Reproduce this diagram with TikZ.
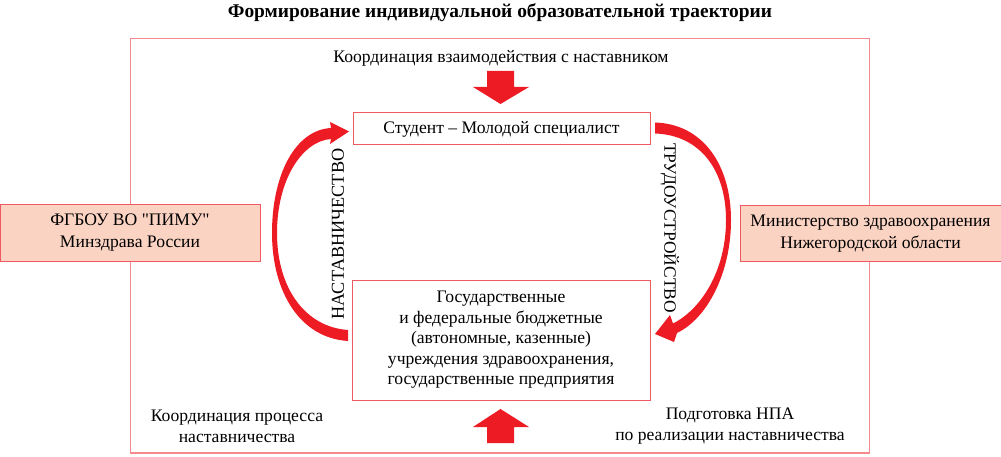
\documentclass[tikz,border=0pt]{standalone}
\usepackage{fontspec}
\setmainfont{Liberation Serif}
\newfontfamily\nomapfont{Liberation Serif}
\usetikzlibrary{calc}
\definecolor{arrred}{HTML}{ED1C24}
\definecolor{framered}{HTML}{F28A8E}
\definecolor{boxred}{HTML}{EE5A60}
\definecolor{peach}{HTML}{FBD3C3}
\newcommand{\sq}{{\nomapfont "}}
\tikzset{
  txt/.style={font=\fontsize{17.6}{21}\selectfont, align=center, inner sep=0pt},
  whitebox/.style={draw=boxred, line width=1pt, fill=white, inner sep=0pt, align=center, font=\fontsize{17.6}{20.5}\selectfont},
  peachbox/.style={draw=boxred, line width=1pt, fill=peach, inner sep=0pt, align=center, font=\fontsize{17.6}{22}\selectfont},
  redfill/.style={fill=arrred, draw=none},
}
\begin{document}
\begin{tikzpicture}[x=1pt,y=-1pt]
\useasboundingbox (0,0) rectangle (1001,457);
% frame
\draw[framered, line width=1.3pt] (130.5,38.5) rectangle (869.5,453);
% title
\node[txt, font=\bfseries\fontsize{19.4}{22}\selectfont] (title) at (500,13) {Формирование индивидуальной образовательной траектории};
\node[txt] (coord) at (501,58) {Координация взаимодействия с наставником};
% boxes
\node[whitebox, minimum width=297pt, minimum height=32pt] (student) at (501.5,129) {Студент – Молодой специалист};
\node[whitebox, minimum width=298pt, minimum height=120pt] (inst) at (501,340) {Государственные\\и федеральные бюджетные\\(автономные, казенные)\\учреждения здравоохранения,\\государственные предприятия};
\node[peachbox, minimum width=260pt, minimum height=56pt] (pimu) at (130,233) {ФГБОУ ВО \sq ПИМУ\sq\\Минздрава России};
\node[peachbox, minimum width=261pt, minimum height=56pt] (minzdrav) at (870.5,233.5) {Министерство здравоохранения\\Нижегородской области};
% bottom labels
\node[txt] (lbl1) at (237,426.5) {Координация процесса\\наставничества};
\node[txt] (lbl2) at (730,426.5) {Подготовка НПА\\по реализации наставничества};
% block arrows
\fill[redfill] (487,71) -- (514,71) -- (514,87) -- (529,87) -- (500.5,104) -- (473,87) -- (487,87) -- cycle;
\fill[redfill] (487,443) -- (514,443) -- (514,427) -- (529,427) -- (500.5,409) -- (473,427) -- (487,427) -- cycle;
% left curved arrow (from inst to student)
\fill[redfill] (348,341) .. controls (300,338) and (272,292) .. (272,233)
  .. controls (272,175) and (295,130) .. (331,128)
  -- (330,122) -- (349,131.5) -- (330,144) -- (331,139)
  .. controls (302,141) and (277,180) .. (277,233)
  .. controls (277,288) and (305,327) .. (348,330) -- cycle;
% right curved arrow (from student to inst)
\fill[redfill] (655,122.5) .. controls (703,124) and (731,165) .. (731,220)
  .. controls (731,272) and (708,318) .. (677,333)
  -- (674,342) -- (655,334) -- (670,315) -- (673,323.5)
  .. controls (700,310) and (726,272) .. (726,220)
  .. controls (726,170) and (700,135) .. (655,133.5) -- cycle;
% rotated labels
\node[txt, font=\fontsize{18.2}{21}\selectfont, rotate=90] (nast) at (338,234) {НАСТАВНИЧЕСТВО};
\node[txt, font=\fontsize{17.4}{21}\selectfont, rotate=-90] (trud) at (670,228) {ТРУДОУСТРОЙСТВО};
\end{tikzpicture}
\end{document}
